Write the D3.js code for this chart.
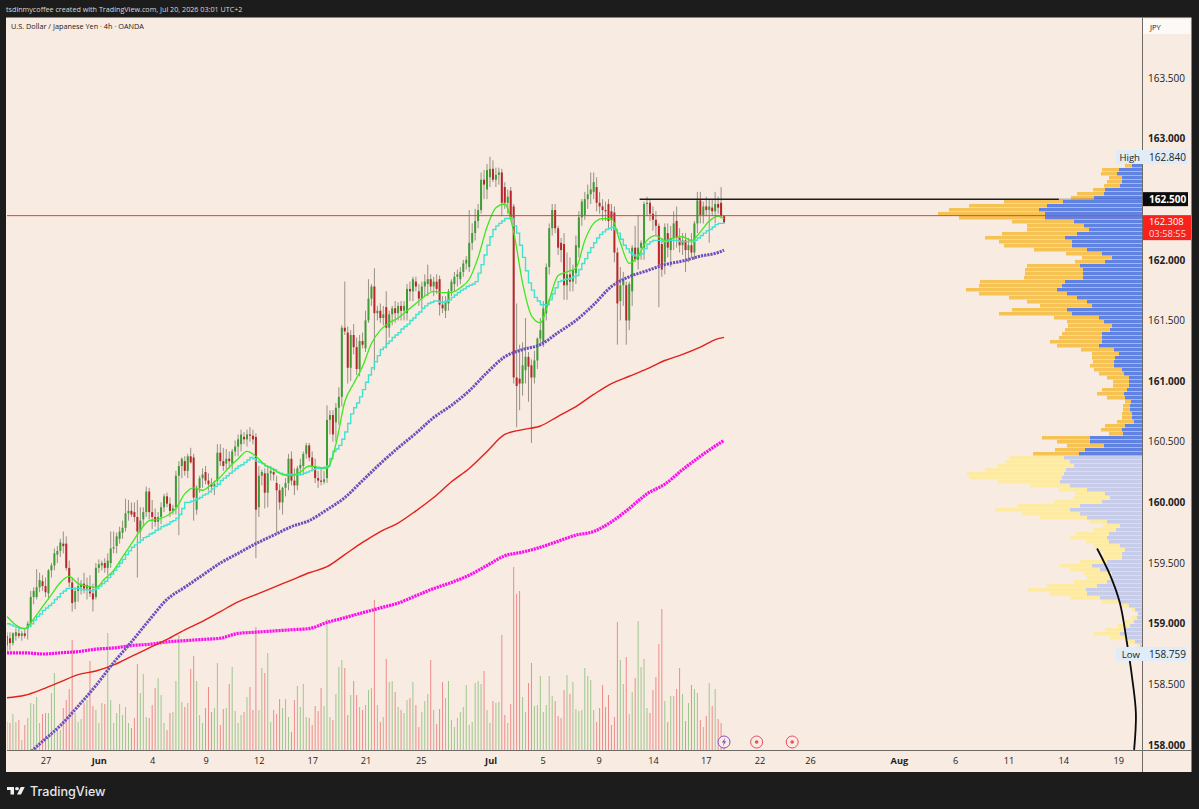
<!DOCTYPE html>
<html>
<head>
<meta charset="utf-8">
<title>USDJPY 4h</title>
<script src="https://cdn.jsdelivr.net/npm/d3@7/dist/d3.min.js"></script>
<style>
  html, body { margin: 0; padding: 0; background: #1c1c1c; }
  svg { display: block; }
  text { font-family: "Open Sans", "DejaVu Sans", sans-serif; }
</style>
</head>
<body>
<svg id="chart" width="1199" height="809"></svg>
<script>
// Candles, one row per 4h bar: open, high, low, close.
const ohlc = [
[158.82,158.93,158.76,158.90],[158.88,158.93,158.78,158.84],[158.84,158.93,158.82,158.92],[158.90,158.96,158.86,158.93],[158.92,158.96,158.88,158.90],[158.90,158.94,158.86,158.92],
[158.92,158.96,158.88,158.90],[158.96,159.02,158.87,159.00],[159.00,159.27,158.97,159.22],[159.22,159.30,159.16,159.27],[159.22,159.45,159.20,159.30],[159.30,159.42,159.26,159.36],
[159.35,159.40,159.27,159.31],[159.31,159.38,159.22,159.26],[159.25,159.45,159.20,159.44],[159.44,159.50,159.38,159.48],[159.48,159.62,159.44,159.58],[159.57,159.64,159.50,159.60],
[159.60,159.70,159.55,159.67],[159.66,159.76,159.58,159.64],[159.66,159.72,159.44,159.46],[159.46,159.52,159.30,159.34],[159.34,159.38,159.10,159.17],[159.18,159.30,159.12,159.27],
[159.27,159.38,159.18,159.31],[159.30,159.36,159.24,159.33],[159.33,159.42,159.25,159.29],[159.29,159.38,159.20,159.32],[159.31,159.40,159.22,159.25],[159.25,159.33,159.10,159.20],
[159.22,159.50,159.20,159.46],[159.46,159.53,159.42,159.49],[159.48,159.52,159.44,159.50],[159.50,159.54,159.42,159.46],[159.46,159.58,159.40,159.52],[159.50,159.76,159.46,159.62],
[159.62,159.76,159.58,159.63],[159.64,159.75,159.58,159.72],[159.70,159.80,159.66,159.76],[159.75,159.85,159.70,159.79],[159.79,160.03,159.76,159.91],[159.91,160.02,159.85,159.93],
[159.93,160.00,159.88,159.90],[159.92,160.00,159.84,159.88],[159.88,160.02,159.38,159.76],[159.76,159.96,159.70,159.85],[159.86,159.96,159.80,159.92],[159.92,160.13,159.88,160.09],
[160.09,160.12,159.86,159.92],[159.92,160.02,159.78,159.88],[159.88,159.95,159.80,159.84],[159.84,159.92,159.78,159.88],[159.88,160.00,159.82,159.96],[159.96,160.07,159.92,160.05],
[160.05,160.08,159.96,159.99],[159.99,160.04,159.88,159.93],[159.93,159.98,159.90,159.95],[159.96,160.26,159.90,160.22],[160.22,160.34,159.73,160.30],[160.30,160.37,160.20,160.36],
[160.34,160.38,160.22,160.26],[160.26,160.40,160.20,160.38],[160.38,160.45,160.32,160.33],[160.37,160.40,159.85,160.04],[159.94,160.14,159.90,160.12],[160.12,160.22,160.08,160.20],
[160.20,160.28,160.12,160.23],[160.25,160.30,160.15,160.18],[160.18,160.24,160.10,160.15],[160.15,160.20,160.08,160.13],[160.13,160.18,160.06,160.15],[160.18,160.48,160.14,160.41],
[160.41,160.48,160.30,160.34],[160.34,160.45,160.26,160.30],[160.32,160.44,160.27,160.36],[160.36,160.42,160.28,160.34],[160.32,160.44,160.27,160.42],[160.42,160.51,160.38,160.46],
[160.46,160.56,160.38,160.52],[160.48,160.60,160.42,160.56],[160.54,160.58,160.48,160.52],[160.52,160.60,160.46,160.56],[160.56,160.62,160.50,160.55],[160.55,160.60,160.48,160.52],
[160.54,160.57,159.54,159.94],[159.96,160.30,159.88,160.22],[160.22,160.27,160.14,160.25],[160.24,160.28,159.95,160.08],[160.08,160.30,159.96,160.24],[160.24,160.30,160.18,160.26],
[160.25,160.28,160.18,160.23],[160.16,160.22,159.75,160.10],[160.10,160.15,159.94,160.00],[160.00,160.13,159.90,160.12],[160.12,160.20,160.05,160.16],[160.16,160.40,160.10,160.36],
[160.36,160.42,160.14,160.18],[160.18,160.28,160.06,160.14],[160.14,160.30,160.10,160.28],[160.28,160.36,160.22,160.31],[160.30,160.42,160.24,160.40],[160.40,160.49,160.36,160.47],
[160.47,160.49,160.34,160.37],[160.37,160.42,160.26,160.30],[160.30,160.36,160.16,160.20],[160.20,160.26,160.12,160.18],[160.18,160.28,160.14,160.17],[160.17,160.26,160.15,160.19],
[160.20,160.80,160.16,160.68],[160.68,160.76,160.56,160.72],[160.72,160.76,160.50,160.56],[160.66,160.82,160.50,160.78],[160.78,160.95,160.64,160.87],[160.87,161.46,160.79,161.44],
[161.44,161.82,161.38,161.41],[161.40,161.45,160.98,161.11],[161.11,161.42,161.00,161.38],[161.38,161.47,161.22,161.28],[161.28,161.36,161.05,161.10],[161.10,161.38,161.04,161.33],
[161.33,161.40,161.27,161.30],[161.27,161.58,161.24,161.50],[161.50,161.84,161.48,161.68],[161.68,161.80,161.62,161.78],[161.78,161.93,161.09,161.56],[161.56,161.62,161.50,161.58],
[161.58,161.64,161.48,161.52],[161.52,161.62,161.46,161.55],[161.61,161.74,161.27,161.44],[161.44,161.58,161.36,161.55],[161.55,161.62,161.46,161.60],[161.60,161.66,161.48,161.56],
[161.56,161.65,161.50,161.62],[161.62,161.66,161.50,161.58],[161.58,161.66,161.50,161.62],[161.56,161.80,161.50,161.76],[161.76,161.82,161.66,161.74],[161.74,161.86,161.66,161.84],
[161.82,161.86,161.74,161.78],[161.74,161.80,161.62,161.68],[161.68,161.82,161.60,161.78],[161.78,161.88,161.70,161.82],[161.80,161.96,161.70,161.84],[161.84,161.88,161.74,161.78],
[161.78,161.86,161.70,161.82],[161.82,161.88,161.72,161.76],[161.84,161.87,161.54,161.63],[161.63,161.70,161.56,161.60],[161.58,161.70,161.52,161.66],[161.64,161.76,161.58,161.74],
[161.74,161.84,161.70,161.82],[161.80,161.90,161.74,161.86],[161.86,161.92,161.78,161.88],[161.84,161.94,161.80,161.90],[161.90,162.00,161.86,161.97],[161.97,162.03,161.92,162.00],
[161.94,162.41,161.90,162.14],[162.14,162.30,162.08,162.22],[162.22,162.42,162.16,162.32],[162.32,162.46,162.26,162.41],[162.41,162.72,162.38,162.66],[162.66,162.74,162.50,162.62],
[162.58,162.79,162.50,162.74],[162.68,162.85,162.60,162.75],[162.75,162.82,162.64,162.66],[162.66,162.76,162.60,162.70],[162.70,162.76,162.62,162.72],[162.72,162.75,162.36,162.47],
[162.60,162.64,162.42,162.47],[162.47,162.58,162.38,162.52],[162.57,162.60,162.33,162.35],[162.44,162.46,160.98,161.03],[161.03,161.64,160.62,160.96],[161.02,161.30,160.76,160.98],
[160.98,161.32,160.88,161.13],[161.09,161.52,160.98,161.20],[161.20,161.24,160.83,161.12],[161.13,161.18,160.49,161.03],[161.03,161.25,160.98,161.17],[161.17,161.36,161.10,161.35],
[161.35,161.52,161.30,161.42],[161.32,161.66,161.28,161.60],[161.56,161.97,161.50,161.94],[161.94,162.30,161.88,162.26],[162.26,162.46,162.20,162.41],[162.41,162.46,162.22,162.26],
[162.26,162.28,162.04,162.10],[162.14,162.18,161.98,162.08],[162.13,162.22,161.67,161.79],[161.79,162.06,161.67,161.88],[161.88,162.02,161.74,161.82],[161.82,161.96,161.74,161.92],
[161.89,162.20,161.80,162.12],[162.10,162.40,162.02,162.35],[162.35,162.50,162.28,162.48],[162.37,162.56,162.33,162.50],[162.50,162.62,162.42,162.54],[162.54,162.72,162.46,162.58],
[162.56,162.72,162.50,162.64],[162.60,162.68,162.40,162.47],[162.47,162.56,162.38,162.44],[162.44,162.50,162.32,162.41],[162.41,162.48,162.32,162.40],[162.46,162.50,162.26,162.32],
[162.40,162.46,162.24,162.33],[162.39,162.44,161.98,162.06],[162.06,162.10,161.30,161.64],[161.66,161.94,161.50,161.79],[161.79,161.90,161.62,161.84],[161.79,161.82,161.30,161.50],
[161.50,161.82,161.42,161.80],[161.74,162.12,161.62,162.10],[162.10,162.28,161.98,162.00],[162.00,162.37,161.92,162.10],[162.10,162.16,162.00,162.14],[162.10,162.48,162.00,162.46],
[162.46,162.52,162.36,162.47],[162.47,162.50,162.32,162.38],[162.38,162.44,162.24,162.33],[162.33,162.40,162.20,162.28],[162.28,162.30,161.61,161.96],[162.13,162.18,161.86,161.92],
[161.98,162.30,161.88,162.27],[162.22,162.30,162.02,162.10],[162.08,162.28,161.94,162.18],[162.18,162.40,162.08,162.30],[162.32,162.44,162.10,162.18],[162.18,162.26,162.06,162.12],
[162.12,162.22,162.04,162.16],[162.16,162.22,161.90,162.08],[162.08,162.18,161.98,162.12],[162.12,162.22,162.02,162.06],[162.06,162.32,162.00,162.30],[162.30,162.56,162.22,162.49],
[162.49,162.56,162.30,162.37],[162.37,162.48,162.30,162.44],[162.44,162.52,162.36,162.41],[162.41,162.50,162.14,162.44],[162.43,162.50,162.36,162.40],[162.40,162.56,162.30,162.46],
[162.46,162.52,162.38,162.43],[162.47,162.60,162.34,162.36],[162.36,162.37,162.30,162.308]
];

// Traded volume per bar.
const volume = [
28,27,36,28,30,10,25,32,47,46,53,27,36,37,37,57,77,20,20,42,50,61,110,37,28,31,47,50,89,44,
40,27,47,46,117,50,27,37,46,35,43,27,22,32,86,57,76,33,32,45,62,72,55,27,20,37,38,69,115,48,
43,47,81,94,69,35,27,42,63,38,42,87,25,41,42,66,83,39,27,35,38,53,63,40,123,40,82,77,97,28,
40,36,51,42,51,33,18,50,64,43,66,33,32,25,44,39,62,44,131,33,30,56,83,90,82,35,55,69,55,43,
40,45,60,62,150,45,28,33,91,68,69,58,43,40,
37,50,52,68,45,23,38,49,56,90,40,26,41,68,52,69,30,23,32,38,
43,65,25,28,67,69,66,79,40,27,49,47,48,115,35,27,46,183,156,159,
53,38,67,87,44,45,74,38,45,74,54,49,34,32,60,75,56,68,41,39,
40,82,74,70,40,28,42,65,43,55,25,33,128,90,66,93,36,58,72,129,
83,91,42,37,60,73,106,141,49,28,54,54,61,82,56,29,47,65,61,57,
30,23,34,67,44,61,31,27,3
];

// Fast average, sampled every third bar, then the live bar.
const limeBars = d3.range(0, 241, 3).concat(242);
const limeValues = [
159.06,158.99,158.96,159.04,159.14,159.24,159.34,159.39,159.33,159.31,159.30,159.37,159.44,159.55,159.66,159.77,159.85,159.86,159.89,159.95,
160.07,160.12,160.10,160.15,160.21,160.29,160.36,160.42,160.38,160.31,160.27,160.23,160.22,160.25,160.30,160.29,160.28,160.48,160.83,160.98,
161.12,161.31,161.42,161.48,161.52,161.58,161.64,161.70,161.74,161.73,161.73,161.77,161.84,162.02,162.27,162.43,162.46,162.23,161.81,161.54,
161.48,161.67,161.87,161.90,161.93,162.16,162.30,162.34,162.34,162.14,161.97,162.03,162.16,162.20,162.16,162.18,162.19,162.16,162.23,162.32,
162.36,162.34
];

// Stepped average, one value per bar.
const cyanValues = [
159.00,158.99,158.98,158.97,158.96,158.96,158.96,158.98,159.00,159.03,159.06,159.08,159.11,159.13,159.15,159.17,159.20,159.22,159.25,159.27,
159.29,159.29,159.29,159.29,159.29,159.28,159.28,159.28,159.27,159.28,159.29,159.31,159.33,159.35,159.38,159.41,159.44,159.47,159.50,159.53,
159.57,159.60,159.63,159.65,159.67,159.69,159.71,159.72,159.74,159.75,159.77,159.78,159.80,159.81,159.82,159.84,159.85,159.87,159.90,159.95,
160.00,160.00,160.01,160.02,160.03,160.04,160.06,160.07,160.09,160.11,160.13,160.15,160.18,160.20,160.22,160.24,160.26,160.28,160.30,160.31,
160.33,160.35,160.37,160.36,160.34,160.33,160.32,160.30,160.29,160.28,160.27,160.25,160.24,160.23,160.23,160.23,160.23,160.23,160.23,160.23,
160.24,160.25,160.26,160.27,160.28,160.28,160.28,160.29,160.30,160.36,160.42,160.44,160.47,160.52,160.58,160.65,160.73,160.78,160.82,160.87,
160.93,160.99,161.05,161.11,161.16,161.21,161.26,161.28,161.31,161.33,161.36,161.38,161.40,161.43,161.45,161.47,161.50,161.52,161.55,161.57,
161.60,161.62,161.64,161.65,161.66,161.66,161.65,161.65,161.66,161.67,161.69,161.71,161.73,161.75,161.76,161.78,161.79,161.80,161.82,161.89,
161.96,162.04,162.12,162.19,162.25,162.28,162.30,162.32,162.34,162.34,162.34,162.28,162.22,162.12,162.02,161.91,161.81,161.75,161.69,161.66,
161.63,161.63,161.63,161.67,161.72,161.77,161.82,161.83,161.84,161.84,161.85,161.86,161.87,161.92,161.97,162.01,162.06,162.10,162.14,162.18,
162.21,162.23,162.25,162.26,162.27,162.25,162.22,162.17,162.12,162.09,162.06,162.04,162.03,162.04,162.05,162.09,162.13,162.15,162.16,162.16,
162.16,162.15,162.15,162.16,162.16,162.16,162.16,162.15,162.15,162.15,162.15,162.15,162.16,162.18,162.20,162.22,162.24,162.25,162.27,162.29,
162.30,162.30,162.31
];
const cyanBars = d3.range(0, 243);

// Slow averages, sampled once per trading day, then the live bar.
const dailyBars = d3.range(0, 241, 6).concat(242);
const purpleValues = [
157.78,157.90,158.03,158.16,158.32,158.49,158.68,158.85,159.03,159.20,159.30,159.40,159.50,159.58,159.66,159.73,159.80,159.85,159.94,160.04,160.18,
160.32,160.45,160.57,160.70,160.80,160.92,161.07,161.20,161.26,161.30,161.40,161.50,161.63,161.78,161.86,161.91,161.96,161.99,162.03,162.06,162.08
];
const redValues = [
158.39,158.41,158.46,158.52,158.58,158.61,158.66,158.73,158.80,158.87,158.95,159.02,159.10,159.18,159.24,159.30,159.36,159.42,159.47,159.57,159.67,
159.76,159.83,159.93,160.04,160.17,160.28,160.42,160.56,160.60,160.63,160.71,160.79,160.89,160.98,161.04,161.10,161.17,161.22,161.28,161.35,161.36
];
const magentaValues = [
158.76,158.76,158.75,158.76,158.77,158.79,158.80,158.82,158.83,158.85,158.86,158.87,158.88,158.92,158.93,158.94,158.95,158.96,159.01,159.05,159.09,
159.13,159.17,159.23,159.29,159.34,159.40,159.48,159.56,159.59,159.63,159.68,159.73,159.76,159.84,159.95,160.07,160.15,160.27,160.38,160.48,160.51
];

// Volume profile rows from the top price down: buyers, then sellers.
const profileTop = 162.79;
const profileStep = 0.03298;
const valueAreaRows = 73;
const profileUp = [
10,23,25,20,20,22,37,38,48,79,95,103,97,97,68,58,53,65,77,70,70,55,40,30,37,62,59,59,59,77,
80,85,75,65,55,50,75,70,43,38,30,32,40,40,40,43,28,23,27,28,28,20,18,13,13,13,15,18,17,11,
12,12,10,10,8,17,20,19,52,52,38,57,63,78,72,68,76,78,80,82,72,55,37,32,40,62,72,62,55,35,
22,26,33,35,33,22,17,20,20,35,50,42,30,30,35,45,56,55,42,23,13,7,4,5,8,12,17,22,15,7,2
];
const profileDown = [
7,17,16,13,15,16,12,27,23,59,78,90,107,86,62,57,62,75,80,73,68,53,36,30,30,53,58,58,59,85,
83,91,88,68,60,52,55,73,45,37,44,45,40,43,52,42,33,27,23,21,24,28,25,22,16,16,25,27,18,6,
7,7,10,10,17,20,21,14,48,33,37,30,46,54,65,77,81,97,93,63,40,28,30,37,48,63,75,58,47,17,
17,23,33,37,23,27,25,18,20,27,32,30,28,25,33,50,58,37,30,18,7,3,1,5,9,13,20,27,17,8,3
];

// Price axis.
const priceTicks = [163.5, 163, 162, 161.5, 161, 160.5, 160, 159.5, 159, 158.5, 158];
const resistanceLevel = 162.5;
const supportLine = 162.364;
const lastPrice = 162.308;
const countdown = "03:58:55";
const sessionHigh = 162.84;
const sessionLow = 158.759;

// Time axis: bar position of every label.
const timeTickBars = [13, 31, 49, 67, 85, 103, 121, 139.6, 163.2, 180.8, 199.7, 218, 235.8, 254, 271, 301, 320, 338, 356.5, 375];
const timeTickLabels = ["27", "Jun", "4", "9", "12", "17", "21", "25", "Jul", "5", "9", "14", "17", "22", "26", "Aug", "6", "11", "14", "19"];
const monthLabels = ["Jun", "Jul", "Aug"];

// Hand-drawn arc in the future area.
const arcBars = [367.9, 372.3, 375.6, 378, 379.7, 381, 380.4];
const arcPrices = [159.62, 159.40, 159.17, 158.84, 158.56, 158.26, 157.96];

// Upcoming events on the time scale.
const eventBars = [242, 253, 265];
const eventKinds = ["split", "earnings", "earnings"];

// Horizontal level drawn from a bar to a later bar.
const levelStartBar = 213.5;
const levelEndBar = 355;

const frame = { left: 7, top: 17.5, right: 1142, bottom: 750.5, outerRight: 1191.5, outerBottom: 772 };
const C = {
  dark: "#1c1c1c", paper: "#f8ebe1", axis: "#6f6a66", text: "#222",
  up: "#3e9c36", down: "#b8252a", wick: "#8d877c",
  volUp: "#9ec78f", volDown: "#ee8b8b",
  lime: "#3ee820", cyan: "#3fe3cf", purple: "#6a4fbd", red: "#e4201a", magenta: "#fb0fef",
  profUp: "#5f82e3", profDown: "#f7c254", profUpPale: "#c6cce9", profDownPale: "#fdeba3"
};

const svg = d3.select("#chart");

const x = d3.scaleLinear().domain([0, 382]).range([7, 7 + 2.963 * 382]);
const y = d3.scaleLinear().domain([158, 163]).range([745, 138.5]);
const volY = d3.scaleLinear().domain([0, 190]).range([750, 560]);
const profX = d3.scaleLinear().domain([0, 120]).range([0, 120]);

// Page frame.
svg.append("rect").attr("width", 1199).attr("height", 809).attr("fill", C.dark);
svg.append("rect").attr("x", frame.left - 1).attr("y", frame.top).attr("width", frame.outerRight - frame.left + 1)
  .attr("height", frame.outerBottom - frame.top).attr("fill", C.paper);

svg.append("text").attr("x", 6).attr("y", 11.5).attr("fill", "#d9d9d9")
  .attr("font-size", 7.2).attr("font-weight", 500)
  .text("tsdinmycoffee created with TradingView.com, Jul 20, 2026 03:01 UTC+2");
svg.append("text").attr("x", 11).attr("y", 29).attr("fill", C.text)
  .attr("font-size", 7.3)
  .text("U.S. Dollar / Japanese Yen · 4h · OANDA");

svg.append("defs").append("clipPath").attr("id", "pane").append("rect")
  .attr("x", frame.left).attr("y", frame.top)
  .attr("width", frame.right - frame.left).attr("height", frame.bottom - frame.top);
const pane = svg.append("g").attr("clip-path", "url(#pane)");

// Volume bars at the foot of the pane.
pane.append("g").selectAll("rect").data(volume).join("rect")
  .attr("x", (d, i) => x(i) - 0.5)
  .attr("y", d => volY(d))
  .attr("width", 1)
  .attr("height", d => volY(0) - volY(d))
  .attr("fill", (d, i) => ohlc[i][3] >= ohlc[i][0] ? C.volUp : C.volDown);

// Volume profile against the price axis.
const rowY = k => y(profileTop - k * profileStep);
const profile = pane.append("g");
profileUp.forEach((up, k) => {
  const down = profileDown[k];
  const inside = k < valueAreaRows;
  profile.append("rect")
    .attr("x", frame.right - profX(up)).attr("y", rowY(k))
    .attr("width", profX(up)).attr("height", 3.5)
    .attr("fill", inside ? C.profUp : C.profUpPale);
  profile.append("rect")
    .attr("x", frame.right - profX(up) - profX(down)).attr("y", rowY(k))
    .attr("width", profX(down)).attr("height", 3.5)
    .attr("fill", inside ? C.profDown : C.profDownPale);
});

// Candles.
const bars = pane.append("g");
bars.selectAll("line").data(ohlc).join("line")
  .attr("x1", (d, i) => x(i)).attr("x2", (d, i) => x(i))
  .attr("y1", d => y(d[1])).attr("y2", d => y(d[2]))
  .attr("stroke", C.wick).attr("stroke-width", 0.9);
bars.selectAll("rect").data(ohlc).join("rect")
  .attr("x", (d, i) => x(i) - 1)
  .attr("y", d => y(Math.max(d[0], d[3])))
  .attr("width", 2)
  .attr("height", d => Math.max(1, Math.abs(y(d[0]) - y(d[3]))))
  .attr("fill", d => d[3] >= d[0] ? C.up : C.down);

// Moving averages.
const trace = (barsAt, values, curve) => d3.line()
  .x((d, i) => x(barsAt[i])).y(d => y(d)).curve(curve)(values);

pane.append("path").attr("d", trace(dailyBars, magentaValues, d3.curveMonotoneX))
  .attr("fill", "none").attr("stroke", C.magenta).attr("stroke-width", 3.2).attr("stroke-dasharray", "2.2 0.8");
pane.append("path").attr("d", trace(dailyBars, redValues, d3.curveMonotoneX))
  .attr("fill", "none").attr("stroke", C.red).attr("stroke-width", 1.4);
pane.append("path").attr("d", trace(dailyBars, purpleValues, d3.curveMonotoneX))
  .attr("fill", "none").attr("stroke", C.purple).attr("stroke-width", 3).attr("stroke-dasharray", "2.2 1");
pane.append("path").attr("d", trace(cyanBars, cyanValues, d3.curveStepAfter))
  .attr("fill", "none").attr("stroke", C.cyan).attr("stroke-width", 1.4);
pane.append("path").attr("d", trace(limeBars, limeValues, d3.curveMonotoneX))
  .attr("fill", "none").attr("stroke", C.lime).attr("stroke-width", 1.3);

// Horizontal levels.
pane.append("line").attr("x1", frame.left).attr("x2", frame.right)
  .attr("y1", y(supportLine)).attr("y2", y(supportLine))
  .attr("stroke", "#e5352d").attr("stroke-opacity", 0.95).attr("stroke-width", 1);
pane.append("line").attr("x1", x(levelStartBar)).attr("x2", x(levelEndBar))
  .attr("y1", y(resistanceLevel)).attr("y2", y(resistanceLevel))
  .attr("stroke", "#1d1c1a").attr("stroke-width", 1.5);
pane.append("line").attr("x1", x(levelEndBar)).attr("x2", frame.right)
  .attr("y1", y(resistanceLevel)).attr("y2", y(resistanceLevel))
  .attr("stroke", "#1d2a55").attr("stroke-opacity", 0.55).attr("stroke-width", 0.8);

// Freehand arc; it runs a little past the pane's edge.
svg.append("path")
  .attr("d", d3.line().x((d, i) => x(arcBars[i])).y(d => y(d)).curve(d3.curveCatmullRom)(arcPrices))
  .attr("fill", "none").attr("stroke", "#0b0b0b").attr("stroke-width", 1.8);

// Pane borders.
svg.append("line").attr("x1", frame.left).attr("x2", frame.outerRight)
  .attr("y1", frame.bottom).attr("y2", frame.bottom).attr("stroke", C.axis);
svg.append("line").attr("x1", frame.right + 0.5).attr("x2", frame.right + 0.5)
  .attr("y1", frame.top).attr("y2", frame.outerBottom).attr("stroke", C.axis);

// Time axis.
const timeAxis = d3.axisBottom(x).tickValues(timeTickBars)
  .tickFormat(d => timeTickLabels[timeTickBars.indexOf(d)]).tickSize(0).tickPadding(7);
const timeG = svg.append("g").attr("transform", `translate(0,${frame.bottom})`).call(timeAxis);
timeG.select(".domain").remove();
timeG.selectAll("text")
  .attr("fill", C.text).attr("font-size", 9.2)
  .attr("font-family", null)
  .attr("font-weight", d => monthLabels.includes(timeTickLabels[timeTickBars.indexOf(d)]) ? 700 : 500);

// Price axis.
const priceAxis = d3.axisRight(y).tickValues(priceTicks)
  .tickFormat(d3.format(".3f")).tickSize(0).tickPadding(6);
const priceG = svg.append("g").attr("transform", `translate(${frame.right},0)`).call(priceAxis);
priceG.select(".domain").remove();
priceG.selectAll("text")
  .attr("fill", C.text).attr("font-size", 10)
  .attr("font-family", null)
  .attr("font-weight", d => Number.isInteger(d) ? 700 : 400);

// Currency chip at the head of the price axis.
svg.append("rect").attr("x", frame.right + 1).attr("y", 19).attr("width", 47.5).attr("height", 15).attr("fill", "#fdf9f6");
svg.append("text").attr("x", 1150).attr("y", 29.5).attr("fill", C.text).attr("font-size", 7.6).text("JPY");

// Value flags on the price axis.
const flag = (price, w, h, fill, color, label, weight) => {
  const yy = y(price);
  svg.append("rect").attr("x", frame.right + 1).attr("y", yy - h / 2).attr("width", w).attr("height", h).attr("fill", fill);
  svg.append("text").attr("x", frame.right + 7).attr("y", yy + 3.5).attr("fill", color)
    .attr("font-size", 10).attr("font-weight", weight).text(label);
};
flag(resistanceLevel, 45, 14, "#0c0c0c", "#fff", d3.format(".3f")(resistanceLevel), 700);

// The last price flag hangs from the level line and carries the bar countdown.
svg.append("rect").attr("x", frame.right + 1).attr("y", y(supportLine) - 0.5)
  .attr("width", 48).attr("height", 25).attr("fill", "#f8211b");
svg.append("text").attr("x", frame.right + 7).attr("y", y(lastPrice) + 3).attr("fill", "#fff")
  .attr("font-size", 9.4).attr("font-weight", 500).text(d3.format(".3f")(lastPrice));
svg.append("text").attr("x", frame.right + 7).attr("y", y(lastPrice) + 14.6).attr("fill", "#ffd9d6")
  .attr("font-size", 9.4).text(countdown);

// High and low of the profile range.
const rangeFlag = (name, price, at) => {
  svg.append("rect").attr("x", frame.right - 26).attr("y", at - 7).attr("width", 71).attr("height", 14).attr("fill", "#e0edf8");
  svg.append("text").attr("x", frame.right - 2).attr("y", at + 3.5).attr("text-anchor", "end").attr("fill", C.text)
    .attr("font-size", 9.6).text(name);
  svg.append("text").attr("x", frame.right + 7).attr("y", at + 3.5).attr("fill", C.text)
    .attr("font-size", 10).text(d3.format(".3f")(price));
};
rangeFlag("High", sessionHigh, 157);
rangeFlag("Low", sessionLow, 654);

// Event markers along the time scale.
const events = svg.append("g");
eventBars.forEach((b, i) => {
  const ex = x(b), ey = 742;
  const tint = eventKinds[i] === "split" ? "#8a4fc0" : "#e8505f";
  events.append("circle").attr("cx", ex).attr("cy", ey).attr("r", 6).attr("fill", C.paper).attr("stroke", tint).attr("stroke-width", 1);
  if (eventKinds[i] === "split") {
    events.append("path").attr("transform", `translate(${ex},${ey})`)
      .attr("d", "M1.2-4L-2.2 0.6H-0.2L-1.2 4L2.2-0.8H0.2Z").attr("fill", tint);
  } else {
    events.append("circle").attr("cx", ex).attr("cy", ey).attr("r", 1.8).attr("fill", tint);
  }
});

// Brand mark in the footer.
const logo = svg.append("g").attr("transform", "translate(7,785.3) scale(.5,.42)").attr("fill", "#f0f0f0");
logo.append("path").attr("d", "M14 22H7V11H0V4h14v18zM28 22h-8l7.5-18h8L28 22z");
logo.append("circle").attr("cx", 20).attr("cy", 8).attr("r", 4);
svg.append("text").attr("x", 30).attr("y", 796).attr("fill", "#e8e8e8")
  .attr("font-size", 12.6).attr("font-weight", 500).style("font-family", "Inter, sans-serif").text("TradingView");
</script>
</body>
</html>
